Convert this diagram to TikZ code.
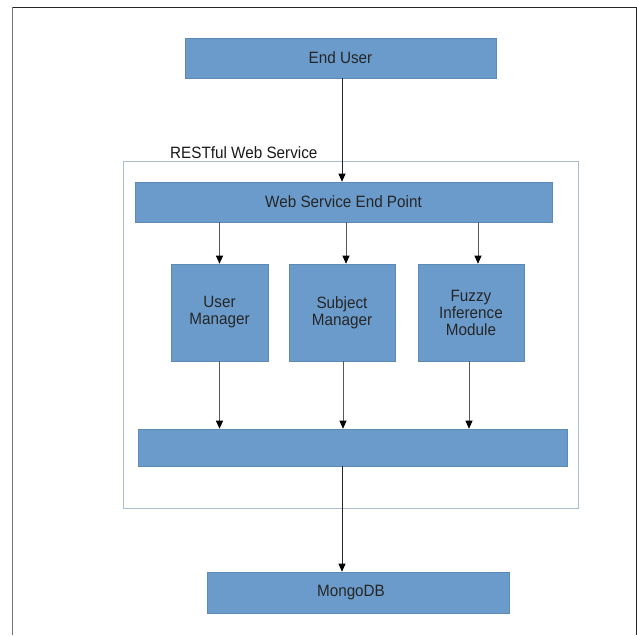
\documentclass[tikz,border=0pt]{standalone}
\usepackage{fontspec}
\setmainfont[FakeStretch=0.93]{Liberation Sans}
\usetikzlibrary{arrows.meta}
\definecolor{boxfill}{HTML}{6A9BCB}
\definecolor{boxline}{HTML}{5C8AB5}
\definecolor{contline}{HTML}{A9BED2}
\begin{document}
\begin{tikzpicture}[x=1pt,y=-1pt,
  box/.style={draw=boxline, line width=0.6pt, fill=boxfill, inner sep=0pt, align=center,
    font=\fontsize{16.4}{17}\selectfont, text=black!85},
  arr/.style={draw=black!65, line width=0.9pt, -{Triangle[length=8pt,width=7pt,color=black]}},
  arrb/.style={arr, draw=black!85}
]
\useasboundingbox (0,0) rectangle (637,635);
\fill[white] (0,0) rectangle (637,635);
% outer frame
\draw[black!55, line width=1.5pt] (12.7,635) -- (12.7,7.3);
\draw[black!85, line width=1.2pt] (12.7,7.3) -- (636.3,7.3) -- (636.3,635);
% container
\draw[contline, line width=1pt] (123,161) rectangle (578,508);
\node[anchor=base west, font=\fontsize{16.4}{17}\selectfont, text=black!90, inner sep=0pt] (lbl) at (170,158) {RESTful Web Service};
% nodes
\node[box, minimum width=311pt, minimum height=40pt] (eu) at (340.5,58) {End User};
\node[box, minimum width=417pt, minimum height=40pt] (wsep) at (343.5,202) {Web Service End Point};
\node[box, minimum width=97pt, minimum height=97pt] (um) at (219.5,312.5) {User\\Manager};
\node[box, minimum width=106pt, minimum height=97pt] (sm) at (342,312.5) {Subject\\Manager};
\node[box, minimum width=106pt, minimum height=97pt] (fz) at (471,312.5) {Fuzzy\\Inference\\Module};
\node[box, minimum width=429pt, minimum height=37pt] (bar) at (352.5,447.5) {};
\node[box, minimum width=302pt, minimum height=41pt] (mdb) at (358,592.5) {\hspace*{-14pt}MongoDB};
% connectors
\draw[arrb] ([xshift=1.5pt]eu.south) -- ([xshift=1.5pt]eu.south |- wsep.north);
\draw[arr] (um.north |- wsep.south) -- (um.north);
\draw[arr] ([xshift=4pt]sm.north |- wsep.south) -- ([xshift=4pt]sm.north);
\draw[arr] ([xshift=7pt]fz.north |- wsep.south) -- ([xshift=7pt]fz.north);
\draw[arr] (um.south) -- (um.south |- bar.north);
\draw[arr] ([xshift=1pt]sm.south) -- ([xshift=1pt]sm.south |- bar.north);
\draw[arr] ([xshift=-2pt]fz.south) -- ([xshift=-2pt]fz.south |- bar.north);
\draw[arrb] ([xshift=-10.5pt]bar.south) -- ([xshift=-10.5pt]bar.south |- mdb.north);
\end{tikzpicture}
\end{document}
